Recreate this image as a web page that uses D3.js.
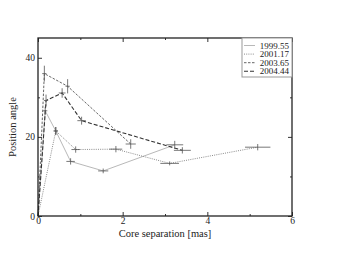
<!DOCTYPE html>
<html>
<head>
<meta charset="utf-8">
<script src="https://cdn.jsdelivr.net/npm/d3@7"></script>
<style>
  body { margin: 0; background: #fff; }
  svg text { font-family: "Liberation Serif", "DejaVu Serif", serif; fill: #222; }
</style>
</head>
<body>
<script>
// series names and the points: [x, y, xerr, yerr]
var epochs = ["1999.55", "2001.17", "2003.65", "2004.44"];
var s1999 = [[0, 0, 0, 0], [0.17, 26.6, 0.05, 1.0], [0.42, 21.5, 0.05, 1.0], [0.77, 13.8, 0.1, 0.8], [1.54, 11.4, 0.12, 0.6], [3.23, 18.0, 0.2, 1.0]];
var s2001 = [[0, 0, 0, 0], [0.42, 21.5, 0.05, 1.0], [0.89, 16.8, 0.1, 0.8], [1.84, 16.9, 0.15, 0.8], [3.11, 13.3, 0.22, 0.5], [5.19, 17.4, 0.3, 0.8]];
var s2003 = [[0, 0, 0, 0], [0.15, 36.0, 0.05, 2.0], [0.7, 32.8, 0.05, 1.8], [2.19, 18.2, 0.12, 1.2]];
var s2004 = [[0, 0, 0, 0], [0.19, 29.2, 0.05, 1.5], [0.57, 31.1, 0.08, 1.2], [1.03, 24.1, 0.1, 1.0], [3.41, 16.6, 0.2, 0.8]];
var xMajor = [0, 2, 4, 6], xMinor = [1, 3, 5];
var yMajor = [0, 20, 40], yMinor = [10, 30];

var W = 339, H = 262;
var pLeft = 38, pRight = 292, pTop = 38, pBottom = 216;
var serif = "'Liberation Serif', 'DejaVu Serif', serif";

var svg = d3.select("body").append("svg").attr("width", W).attr("height", H);

var x = d3.scaleLinear().domain([0, 6]).range([pLeft, pRight]);
var y = d3.scaleLinear().domain([0, 45]).range([pBottom, pTop]);

var styles = [
  {color: "#b0b0b0", dash: null, width: 0.9},
  {color: "#8a8a8a", dash: "1,1.2", width: 1},
  {color: "#555", dash: "2.5,1.5", width: 0.9},
  {color: "#333", dash: "4,2", width: 1.1}
];
var allSeries = [s1999, s2001, s2003, s2004];

var line = d3.line().x(function(d) { return x(d[0]); }).y(function(d) { return y(d[1]); });

allSeries.forEach(function(s, i) {
  svg.append("path")
    .attr("d", line(s))
    .attr("fill", "none")
    .attr("stroke", styles[i].color)
    .attr("stroke-width", styles[i].width)
    .attr("stroke-dasharray", styles[i].dash);
});

// error bars
allSeries.forEach(function(s) {
  var pts = s.filter(function(d) { return d[2] > 0 || d[3] > 0; });
  var g = svg.append("g").attr("stroke", "#555").attr("stroke-width", 0.8);
  g.selectAll(".h").data(pts).enter().append("line")
    .attr("x1", function(d) { return x(d[0] - d[2]); })
    .attr("x2", function(d) { return x(d[0] + d[2]); })
    .attr("y1", function(d) { return y(d[1]); })
    .attr("y2", function(d) { return y(d[1]); });
  g.selectAll(".v").data(pts).enter().append("line")
    .attr("x1", function(d) { return x(d[0]); })
    .attr("x2", function(d) { return x(d[0]); })
    .attr("y1", function(d) { return y(d[1] - d[3]); })
    .attr("y2", function(d) { return y(d[1] + d[3]); });
});

// axes, ticks pointing inward on all four sides
function tickAxis(axis, vals, size, transform, labels) {
  var g = svg.append("g").attr("transform", transform)
    .call(axis.tickValues(vals).tickSize(size).tickFormat(labels ? d3.format("d") : ""));
  g.attr("font-family", serif);
  g.select(".domain").remove();
  g.selectAll("line").attr("stroke", "#333").attr("stroke-width", 1);
  g.selectAll("text").attr("font-size", 9.5).attr("fill", "#222");
  return g;
}
var gb = tickAxis(d3.axisBottom(x), xMajor, -4, "translate(0," + pBottom + ")", true);
gb.selectAll("text").attr("y", 1.5);
tickAxis(d3.axisBottom(x), xMinor, -2, "translate(0," + pBottom + ")", false);
tickAxis(d3.axisTop(x), xMajor, -4, "translate(0," + pTop + ")", false);
tickAxis(d3.axisTop(x), xMinor, -2, "translate(0," + pTop + ")", false);
var gl = tickAxis(d3.axisLeft(y), yMajor, -4, "translate(" + pLeft + ",0)", true);
gl.selectAll("text").attr("x", -3);
tickAxis(d3.axisLeft(y), yMinor, -2, "translate(" + pLeft + ",0)", false);
tickAxis(d3.axisRight(y), yMajor, -4, "translate(" + pRight + ",0)", false);
tickAxis(d3.axisRight(y), yMinor, -2, "translate(" + pRight + ",0)", false);

svg.append("rect")
  .attr("x", pLeft).attr("y", pTop)
  .attr("width", pRight - pLeft).attr("height", pBottom - pTop)
  .attr("fill", "none").attr("stroke", "#222").attr("stroke-width", 1.3);

svg.append("text")
  .attr("x", (pLeft + pRight) / 2).attr("y", 237)
  .attr("text-anchor", "middle").attr("font-size", 10.5).attr("font-family", serif)
  .text("Core separation [mas]");

svg.append("text")
  .attr("transform", "translate(16," + ((pTop + pBottom) / 2) + ") rotate(-90)")
  .attr("text-anchor", "middle").attr("font-size", 10.5).attr("font-family", serif)
  .text("Position angle");

// legend
var lg = svg.append("g").attr("transform", "translate(242,38)");
lg.append("rect").attr("width", 50).attr("height", 39)
  .attr("fill", "#fff").attr("stroke", "#999").attr("stroke-width", 1);
epochs.forEach(function(name, i) {
  var yy = 7.5 + i * 8.6;
  lg.append("line")
    .attr("x1", 2).attr("x2", 13).attr("y1", yy).attr("y2", yy)
    .attr("stroke", styles[i].color)
    .attr("stroke-width", styles[i].width)
    .attr("stroke-dasharray", styles[i].dash);
  lg.append("text").attr("x", 47).attr("y", yy + 3)
    .attr("text-anchor", "end").attr("font-size", 9).attr("font-family", serif)
    .text(name);
});
</script>
</body>
</html>
